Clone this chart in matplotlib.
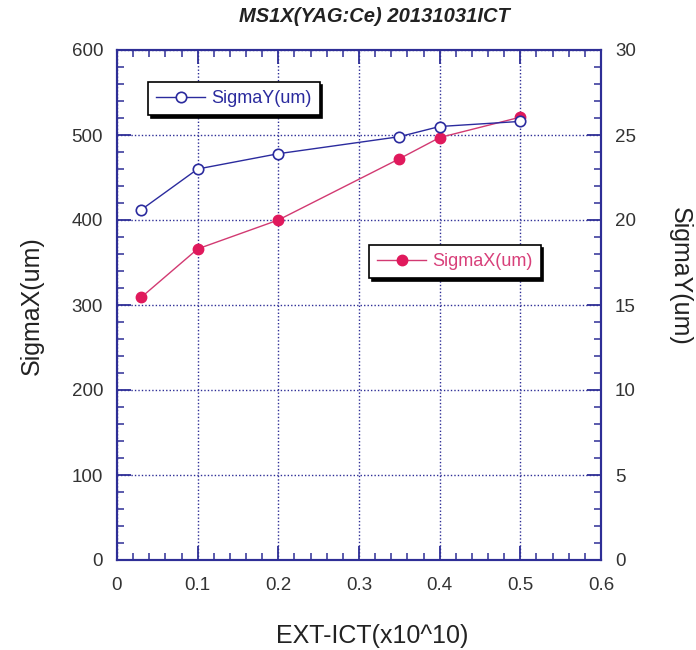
import matplotlib
matplotlib.use("Agg")
import matplotlib.pyplot as plt
from matplotlib.ticker import MultipleLocator, FixedLocator

# ---- data ----
ext_ict = [0.03, 0.1, 0.2, 0.35, 0.4, 0.5]
sigma_x = [309, 366, 400, 472, 497, 521]
sigma_y = [20.6, 23.0, 23.9, 24.9, 25.5, 25.8]

x_ticks = [0, 0.1, 0.2, 0.3, 0.4, 0.5, 0.6]
x_tick_labels = ["0", "0.1", "0.2", "0.3", "0.4", "0.5", "0.6"]
yl_ticks = [0, 100, 200, 300, 400, 500, 600]
yr_ticks = [0, 5, 10, 15, 20, 25, 30]

title = "MS1X(YAG:Ce) 20131031ICT"
xlabel = "EXT-ICT(x10^10)"
ylabel_left = "SigmaX(um)"
ylabel_right = "SigmaY(um)"

# ---- style ----
FONT = ["Liberation Sans", "DejaVu Sans"]
plt.rcParams["font.family"] = FONT
AX_COL = "#2e2e96"
Y_COL = "#2b2b9e"
X_LINE = "#d23a72"
X_MARK = "#e0195c"
TXT = "#333333"

W, H = 696, 650
fig = plt.figure(figsize=(W / 100, H / 100), dpi=100)
ax = fig.add_axes([117 / W, 1 - 560 / H, (601 - 117) / W, (560 - 50) / H])
ax2 = ax.twinx()

ax.set_xlim(0, 0.6)
ax.set_ylim(0, 600)
ax2.set_ylim(0, 30)

ax.xaxis.set_major_locator(FixedLocator(x_ticks))
ax.set_xticklabels(x_tick_labels)
ax.xaxis.set_minor_locator(MultipleLocator(0.02))
ax.yaxis.set_major_locator(FixedLocator(yl_ticks))
ax.yaxis.set_minor_locator(MultipleLocator(20))
ax2.yaxis.set_major_locator(FixedLocator(yr_ticks))
ax2.yaxis.set_minor_locator(MultipleLocator(1))

for a in (ax, ax2):
    for s in a.spines.values():
        s.set_color(AX_COL)
        s.set_linewidth(1.5)
ax.tick_params(axis="both", which="major", direction="in", length=10, width=1.3,
               color=AX_COL, labelsize=13.5, labelcolor=TXT, pad=10, top=True)
ax.tick_params(axis="both", which="minor", direction="in", length=5, width=1.1,
               color=AX_COL, top=True)
ax.tick_params(axis="x", which="major", pad=12)
ax2.tick_params(axis="y", which="major", direction="in", length=10, width=1.3,
                color=AX_COL, labelsize=13.5, labelcolor=TXT, pad=10)
ax2.tick_params(axis="y", which="minor", direction="in", length=5, width=1.1,
                color=AX_COL)

ax.grid(True, which="major", color=AX_COL, linestyle=(0, (1, 1.5)), linewidth=1.0)
ax.set_axisbelow(True)

lx, = ax.plot(ext_ict, sigma_x, color=X_LINE, linewidth=1.0, marker="o",
              markersize=7.5, markerfacecolor=X_MARK, markeredgecolor=X_MARK,
              label="SigmaX(um)", zorder=3)
ly, = ax2.plot(ext_ict, sigma_y, color=Y_COL, linewidth=1.0, marker="o",
               markersize=7.5, markerfacecolor="white", markeredgecolor=Y_COL,
               markeredgewidth=1.2, label="SigmaY(um)", zorder=3)

shadow = {"color": "black", "alpha": 1.0}
legY = ax2.legend(handles=[ly], loc="upper left",
                  bbox_to_anchor=(148 / W, 1 - 82 / H), bbox_transform=fig.transFigure,
                  borderaxespad=0, fancybox=False, shadow=shadow, framealpha=1,
                  edgecolor="black", fontsize=13, handlelength=2.7,
                  handletextpad=0.35, borderpad=0.45, labelcolor=[Y_COL])
legY.get_frame().set_linewidth(1.2)
legX = ax2.legend(handles=[lx], loc="upper left",
                  bbox_to_anchor=(369 / W, 1 - 245 / H), bbox_transform=fig.transFigure,
                  borderaxespad=0, fancybox=False, shadow=shadow, framealpha=1,
                  edgecolor="black", fontsize=13, handlelength=2.7,
                  handletextpad=0.35, borderpad=0.45, labelcolor=["#d8407a"])
legX.get_frame().set_linewidth(1.2)
ax2.add_artist(legY)

fig.text(374 / W, 1 - 17 / H, title, ha="center", va="center", fontsize=14.5,
         fontweight="bold", fontstyle="italic", color="#222222")
fig.text(372 / W, 1 - 636 / H, xlabel, ha="center", va="center", fontsize=18,
         color="#222222")
fig.text(32 / W, 1 - 306 / H, ylabel_left, ha="center", va="center", fontsize=18,
         rotation=90, color="#222222")
fig.text(680 / W, 1 - 276 / H, ylabel_right, ha="center", va="center", fontsize=18,
         rotation=270, color="#222222")

fig.savefig("out.png", dpi=100)
